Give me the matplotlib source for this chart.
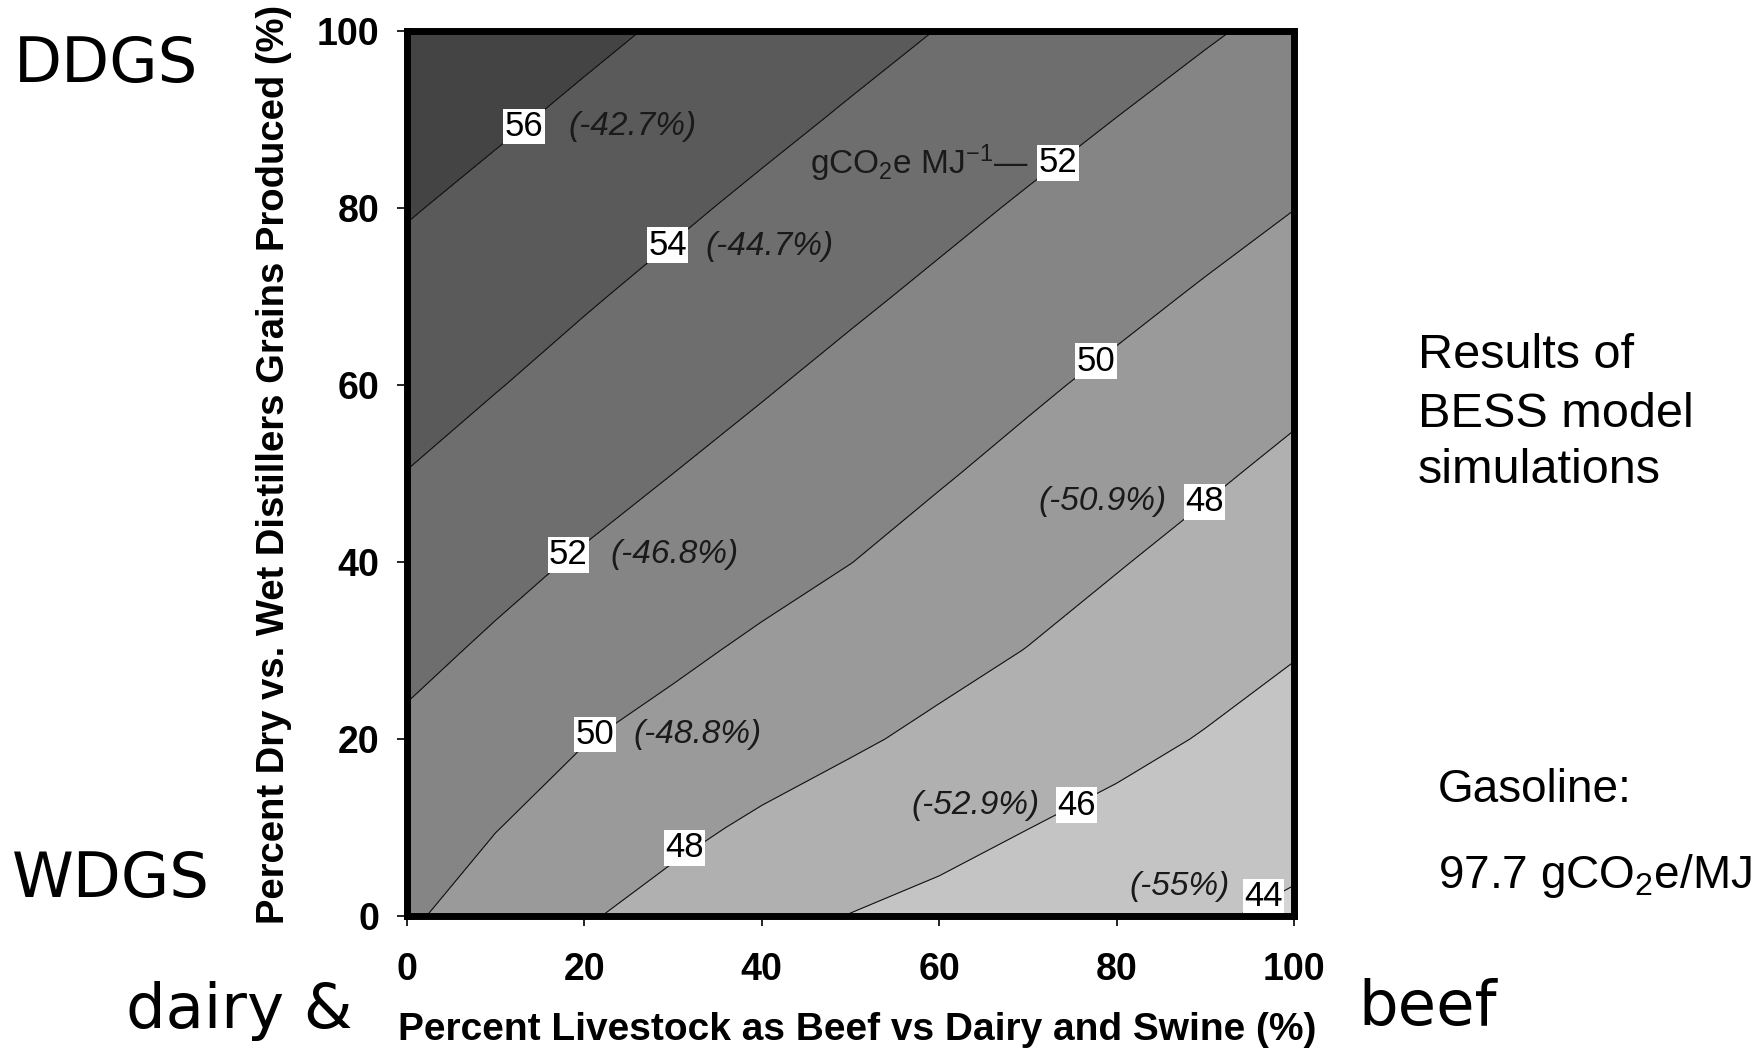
import numpy as np
import matplotlib
matplotlib.use('Agg')
import matplotlib.pyplot as plt

plt.rcParams['font.family'] = 'Liberation Sans'
plt.rcParams['mathtext.fontset'] = 'custom'
plt.rcParams['mathtext.rm'] = 'Liberation Sans'
plt.rcParams['mathtext.it'] = 'Liberation Sans:italic'

# grid (gCO2e/MJ), x = % beef, y = % dry grains
x_pct = [0, 10, 20, 30, 40, 50, 60, 70, 80, 90, 100]
y_pct = [0, 10, 20, 30, 40, 50, 60, 70, 80, 90, 100]
z_y0 = [50.23, 49.19, 48.15, 47.38, 46.65, 45.96, 45.51, 45.06, 44.61, 44.16, 43.72]
z_y10 = [50.96, 50.05, 49.22, 48.41, 47.72, 47.15, 46.59, 46.02, 45.52, 45.02, 44.53]
z_y20 = [51.69, 50.87, 50.06, 49.44, 48.84, 48.23, 47.64, 47.06, 46.48, 45.90, 45.31]
z_y30 = [52.44, 51.74, 51.04, 50.34, 49.70, 49.12, 48.54, 47.96, 47.34, 46.72, 46.10]
z_y40 = [53.21, 52.50, 51.83, 51.23, 50.62, 50.02, 49.38, 48.74, 48.10, 47.48, 46.86]
z_y50 = [53.97, 53.31, 52.66, 52.00, 51.38, 50.77, 50.15, 49.52, 48.88, 48.25, 47.62]
z_y60 = [54.69, 54.07, 53.43, 52.79, 52.15, 51.52, 50.90, 50.27, 49.65, 49.03, 48.40]
z_y70 = [55.40, 54.78, 54.16, 53.54, 52.91, 52.29, 51.67, 51.05, 50.44, 49.82, 49.19]
z_y80 = [56.12, 55.51, 54.90, 54.28, 53.66, 53.04, 52.43, 51.81, 51.22, 50.62, 50.02]
z_y90 = [56.84, 56.25, 55.65, 55.04, 54.42, 53.81, 53.20, 52.59, 51.98, 51.40, 50.82]
z_y100 = [57.56, 56.97, 56.37, 55.78, 55.17, 54.56, 53.96, 53.36, 52.76, 52.16, 51.60]

levels = [40, 44, 46, 48, 50, 52, 54, 56, 60]
line_levels = [44, 46, 48, 50, 52, 54, 56]
fill_colors = ['#d4d4d4', '#c4c4c4', '#b0b0b0', '#9a9a9a', '#858585',
               '#6e6e6e', '#5a5a5a', '#444444']

# contour value labels
lab_text = ['56', '54', '52', '52', '50', '50', '48', '48', '46', '44']
lab_x = [13.2, 29.4, 73.4, 18.2, 21.2, 77.7, 31.3, 89.9, 75.5, 96.6]
lab_y = [89.2, 75.8, 85.1, 40.8, 20.5, 62.7, 7.7, 46.8, 12.5, 2.2]

# percent reduction vs gasoline
pct_text = ['(-42.7%)', '(-44.7%)', '(-46.8%)', '(-48.8%)', '(-50.9%)', '(-52.9%)', '(-55%)']
pct_x = [18.2, 33.6, 22.9, 25.5, 85.6, 71.3, 92.7]
pct_y = [89.2, 75.7, 40.8, 20.5, 46.8, 12.5, 3.3]
pct_ha = ['left', 'left', 'left', 'left', 'right', 'right', 'right']

W, H = 1763, 1052
fig = plt.figure(figsize=(W / 100, H / 100), dpi=100)
ax = fig.add_axes([407 / W, 1 - 916 / H, 887 / W, 885 / H])

Z = np.array([z_y0, z_y10, z_y20, z_y30, z_y40, z_y50,
              z_y60, z_y70, z_y80, z_y90, z_y100])
X, Y = np.meshgrid(x_pct, y_pct)
ax.contourf(X, Y, Z, levels=levels, colors=fill_colors)
ax.contour(X, Y, Z, levels=line_levels, colors='#111111', linewidths=0.8)

for s, x, y in zip(lab_text, lab_x, lab_y):
    ax.text(x, y, s, ha='center', va='center', fontsize=25, zorder=5, clip_on=True,
            bbox=dict(facecolor='white', edgecolor='none', pad=1))
for s, x, y, ha in zip(pct_text, pct_x, pct_y, pct_ha):
    ax.text(x, y, s, ha=ha, va='center', fontsize=24, style='italic',
            color='#1a1a1a', zorder=5)
ax.text(70.0, 85.1, r'gCO$_2$e MJ$^{-1}$—', ha='right', va='center',
        fontsize=24, color='#1a1a1a', zorder=5)

ax.set_xlim(0, 100)
ax.set_ylim(0, 100)
ax.set_xticks([0, 20, 40, 60, 80, 100])
ax.set_yticks([0, 20, 40, 60, 80, 100])
ax.tick_params(direction='out', length=7, width=1.2)
ax.tick_params(axis='x', pad=19)
ax.tick_params(axis='y', pad=13)
for lab in ax.get_xticklabels() + ax.get_yticklabels():
    lab.set_fontsize(27)
    lab.set_fontweight('bold')
for sp in ax.spines.values():
    sp.set_linewidth(5)
    sp.set_zorder(6)

ax.set_xlabel('Percent Livestock as Beef vs Dairy and Swine (%)', fontsize=28, fontweight='bold')
ax.set_ylabel('Percent Dry vs. Wet Distillers Grains Produced (%)', fontsize=27.5, fontweight='bold')
ax.xaxis.set_label_coords(0.507, -0.108)
ax.yaxis.set_label_coords(-0.130, 0.51)

# side annotations
big = dict(fontsize=45, family='DejaVu Sans', va='baseline')
fig.text(14 / W, 1 - 82 / H, 'DDGS', **big)
fig.text(12 / W, 1 - 897 / H, 'WDGS', **big)
fig.text(126 / W, 1 - 1028 / H, 'dairy &', **big)
fig.text(1358 / W, 1 - 1025 / H, 'beef', **big)

fig.text(1418 / W, 1 - 368 / H, 'Results of', fontsize=35, va='baseline')
fig.text(1418 / W, 1 - 427 / H, 'BESS model', fontsize=35, va='baseline')
fig.text(1418 / W, 1 - 483 / H, 'simulations', fontsize=35, va='baseline')
fig.text(1438 / W, 1 - 802 / H, 'Gasoline:', fontsize=33, va='baseline')
fig.text(1438 / W, 1 - 888 / H, r'97.7 gCO$_2$e/MJ', fontsize=33, va='baseline')

fig.savefig('out.png', dpi=100)
